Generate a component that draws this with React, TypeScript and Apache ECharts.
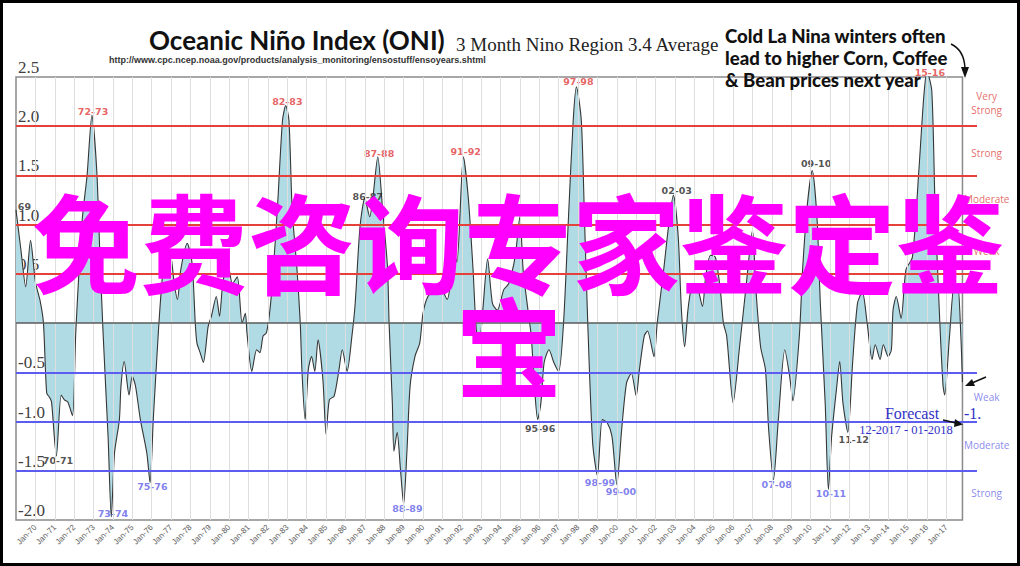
import React, { useEffect, useRef } from "react";
import * as echarts from "echarts";

// ONI series: month index counted from Jan-1969
const oniMonth = [
  0, 3, 6, 9, 12, 15, 17, 19, 21, 22, 25, 28, 30, 32, 35, 37, 41, 44, 47, 50, 52, 54, 57, 59, 61, 64, 65, 67, 70, 72, 74, 77, 81, 83, 85, 88, 90, 93, 96, 98,
  100, 102, 106, 109, 111, 112, 114, 116, 119, 121, 124, 126, 128, 131, 134, 137, 140, 142, 143, 146, 149, 151, 153, 155, 157, 159, 162, 165, 167, 169, 171, 174, 176, 177, 179, 181, 183, 185, 187, 190,
  192, 194, 197, 200, 202, 205, 208, 210, 213, 216, 219, 221, 224, 227, 230, 231, 233, 234, 236, 238, 240, 242, 244, 247, 250, 252, 255, 259, 262, 264, 267, 269, 271, 273, 277, 280, 283, 285, 287, 289,
  292, 295, 298, 302, 305, 309, 312, 314, 317, 319, 321, 323, 325, 327, 330, 333, 336, 339, 342, 345, 347, 350, 352, 354, 357, 360, 363, 366, 369, 372, 375, 378, 381, 384, 386, 389, 391, 395, 397, 401,
  404, 407, 410, 412, 414, 416, 418, 421, 425, 427, 430, 433, 436, 438, 440, 444, 448, 452, 456, 458, 461, 464, 466, 469, 472, 476, 479, 481, 485, 487, 490, 493, 496, 498, 501, 503, 505, 508, 510, 512,
  515, 518, 521, 524, 527, 530, 532, 535, 537, 540, 542, 543, 545, 548, 551, 555, 559, 562, 564, 567, 569, 572, 574, 575, 578, 581, 583, 585, 586,
];
const oniValue = [
  1.15, 0.75, 0.37, 0.84, 0.42, 0.22, 0.0, -0.71, -0.76, -0.8, -1.35, -0.73, -0.78, -0.8, -0.94, -0.1, 1.05, 1.5, 2.11, 1.55, 0.67, -0.13, -1.15, -1.97, -1.32, -0.98, -0.64, -0.39, -0.73, -0.54, -0.64, -0.98, -1.32, -1.62, -0.98, -0.13, 0.34, 0.81, 0.67, 0.4,
  0.24, 0.54, 0.81, 0.61, 0.0, -0.2, -0.3, -0.4, -0.03, 0.07, 0.27, 0.07, 0.4, 0.62, 0.4, 0.47, 0.0, 0.1, -0.1, -0.49, -0.27, -0.3, -0.13, -0.1, 0.1, 0.47, 1.21, 2.06, 2.21, 2.06, 1.15, 0.54, 0.0, -0.47, -0.98, -0.47, -0.34, -0.49, -0.17, -0.57,
  -1.13, -0.78, -0.74, -0.47, -0.27, -0.49, -0.13, 0.2, 0.98, 1.27, 1.08, 1.28, 1.69, 1.15, 0.57, 0.0, -0.81, -1.3, -1.11, -1.48, -1.84, -1.32, -0.64, -0.34, -0.2, 0.1, 0.27, 0.34, 0.4, 0.34, 0.24, 0.4, 0.73, 0.62, 1.69, 1.28, 0.54, -0.07, -0.19, 0.13,
  0.65, 0.2, 0.13, 0.34, 0.4, 0.67, 1.08, 0.54, 0.13, -0.13, -0.64, -0.98, -0.81, -0.4, -0.27, -0.4, -0.49, 0.0, 1.05, 2.06, 2.4, 2.06, 1.05, 0.0, -1.21, -1.55, -0.98, -1.01, -1.15, -1.64, -1.08, -0.61, -0.51, -0.74, -0.47, -0.13, -0.08, -0.34, 0.0, 0.54,
  0.98, 1.3, 0.88, 0.13, -0.24, 0.13, 0.34, 0.4, 0.17, 0.47, 0.69, 0.67, 0.35, 0.0, -0.13, -0.81, -0.24, 0.37, 0.94, 0.37, -0.24, -0.47, -1.08, -1.59, -0.98, -0.27, -0.54, -0.79, -0.13, 0.54, 1.21, 1.55, 1.05, 0.2, -0.81, -1.69, -1.15, -0.67, -0.39, -0.81,
  -1.11, -0.4, 0.2, 0.32, 0.0, -0.37, -0.22, -0.37, -0.22, -0.34, -0.27, 0.13, 0.27, 0.05, 0.54, 0.67, 1.55, 2.29, 2.56, 2.36, 1.21, 0.0, -0.64, -0.73, -0.13, 0.4, 0.4, -0.13, -0.6,
];

const lastMonth = 586;
const firstYear = 1969;
const yTickLabels = ["-2.0", "-1.5", "-1.0", "-0.5", "0", "0.5", "1.0", "1.5", "2.0", "2.5"];
const warmThresholds = [0.5, 1.0, 1.5, 2.0];
const coldThresholds = [-0.5, -1.0, -1.5];

// episode labels
const eventNames = ["69", "72-73", "70-71", "73-74", "75-76", "82-83", "86-87", "87-88", "88-89", "91-92", "95-96", "97-98", "98-99", "99-00", "02-03", "07-08", "09-10", "10-11", "11-12", "15-16"];
const eventMonths = [5.2, 47.7, 26.0, 60, 84.4, 168, 217.8, 224.8, 242.3, 278.4, 324.5, 348.2, 361.6, 374.6, 409.1, 471, 495.4, 504.6, 518.7, 565.8];
const eventValues = [1.18, 2.15, -1.4, -1.93, -1.66, 2.25, 1.29, 1.72, -1.88, 1.74, -1.07, 2.45, -1.62, -1.71, 1.35, -1.64, 1.62, -1.73, -1.18, 2.55];
const eventKinds = ["k", "r", "k", "b", "b", "r", "k", "r", "b", "r", "k", "r", "b", "b", "k", "b", "k", "b", "k", "r"];

// strength bands on the right
const bandNames = ["Very\nStrong", "Strong", "Moderate", "Weak", "Weak", "Moderate", "Strong"];
const bandValues = [2.24, 1.73, 1.26, 0.73, -0.75, -1.24, -1.73];
const bandKinds = ["r", "r", "r", "r", "b", "b", "b"];
const bandMonth = 601;

const RED = "#e5403a";
const BLUE = "#5c5cf0";
const kindColor: Record<string, string> = { r: "#e03a3a", b: "#6060e8", k: "#262626" };
const bandColor: Record<string, string> = { r: "#e0463e", b: "#6b6be8" };

export default function App() {
  const ref = useRef<HTMLDivElement>(null);
  useEffect(() => {
    if (!ref.current) return;
    const chart = echarts.init(ref.current, undefined, { renderer: "svg" });
    const gridMonths: number[] = [];
    for (let m = 12; m <= lastMonth; m += 12) gridMonths.push(m);

    const txt = (x: number, y: number, text: string, font: string, fill: string, align = "left", z = 10) => ({
      type: "text",
      x,
      y,
      z,
      style: { text, font, fill, textAlign: align, textVerticalAlign: "middle", align, verticalAlign: "middle" },
    });

    const option: any = {
      animation: false,
      backgroundColor: "#ffffff",
      grid: { left: 16, right: 43, top: 77, bottom: 46, containLabel: false },
      xAxis: {
        type: "value",
        min: 0,
        max: 595,
        interval: 12,
        axisLine: { show: false },
        axisTick: { show: false },
        splitLine: { show: false },
        axisLabel: {
          rotate: 45,
          fontSize: 8,
          color: "#606060",
          margin: 6,
          fontFamily: "Liberation Sans",
          formatter: (v: number) => {
            if (v <= 0 || v > lastMonth) return "";
            const yy = (firstYear + v / 12) % 100;
            return "Jan-" + String(yy).padStart(2, "0");
          },
        },
      },
      yAxis: {
        type: "value",
        min: -2,
        max: 2.5,
        interval: 0.5,
        axisLine: { show: false },
        axisTick: { show: false },
        splitLine: { show: false },
        axisLabel: {
          inside: true,
          margin: 2,
          fontFamily: "Liberation Serif",
          fontSize: 17,
          color: "#404040",
          verticalAlign: "bottom",
          padding: [0, 0, 1, 0],
          formatter: (v: number) => yTickLabels[Math.round((v + 2) / 0.5)],
        },
      },
      series: [
        {
          type: "scatter",
          data: [],
          silent: true,
          z: 1,
          markLine: {
            silent: true,
            symbol: ["none", "none"],
            label: { show: false },
            lineStyle: { color: "#dedede", width: 1, type: "solid" },
            data: gridMonths.map((m) => ({ xAxis: m })),
          },
          markArea: {
            silent: true,
            itemStyle: { color: "rgba(0,0,0,0)", borderColor: "#8a8a8a", borderWidth: 1.5 },
            data: [[{ coord: [0, -2] }, { coord: [lastMonth, 2.5] }]],
          },
        },
        {
          type: "line",
          data: oniMonth.map((m, i) => [m, oniValue[i]]),
          showSymbol: false,
          symbol: "none",
          smooth: 0.25,
          clip: true,
          z: 2,
          lineStyle: { color: "#363636", width: 1.1 },
          areaStyle: { color: "#b0dbe5", opacity: 1 },
        },
        {
          type: "scatter",
          data: [],
          silent: true,
          z: 3,
          markLine: {
            silent: true,
            symbol: ["none", "none"],
            label: { show: false },
            data: [
              ...warmThresholds.map((v) => ({ yAxis: v, lineStyle: { color: RED, width: 2, type: "solid" } })),
              ...coldThresholds.map((v) => ({ yAxis: v, lineStyle: { color: BLUE, width: 2, type: "solid" } })),
              [
                { coord: [0, 0], lineStyle: { color: "#5a5a5a", width: 1.5, type: "solid" } },
                { coord: [lastMonth, 0] },
              ],
            ],
          },
        },
        {
          type: "scatter",
          z: 4,
          silent: true,
          clip: false,
          symbol: "circle",
          symbolSize: 1,
          itemStyle: { color: "rgba(0,0,0,0)" },
          data: eventNames.map((n, i) => ({
            name: n,
            value: [eventMonths[i], eventValues[i]],
            label: { color: kindColor[eventKinds[i]] },
          })),
          label: {
            show: true,
            position: "inside",
            formatter: "{b}",
            fontFamily: "DejaVu Sans",
            fontWeight: "bold",
            fontSize: 9.5,
          },
        },
        {
          type: "scatter",
          z: 4,
          silent: true,
          clip: false,
          symbol: "circle",
          symbolSize: 1,
          itemStyle: { color: "rgba(0,0,0,0)" },
          data: bandNames.map((n, i) => ({
            name: n,
            value: [bandMonth, bandValues[i]],
            label: { color: bandColor[bandKinds[i]] },
          })),
          label: {
            show: true,
            position: "inside",
            formatter: "{b}",
            fontFamily: "Open Sans",
            fontSize: 10,
            lineHeight: 14,
          },
        },
      ],
      graphic: [
        txt(149, 40, "Oceanic Niño Index (ONI)", 'bold 26px "Lato"', "#111"),
        txt(456, 44, "3 Month Nino Region 3.4 Average", '19px "Liberation Serif"', "#222"),
        txt(109, 60, "http://www.cpc.ncep.noaa.gov/products/analysis_monitoring/ensostuff/ensoyears.shtml", 'bold 9px "Liberation Sans"', "#333"),
        ...["Cold La Nina winters often", "lead to higher Corn, Coffee", "& Bean prices next year"].map((t, i) =>
          txt(725, 36 + i * 22, t, '900 18.6px "Lato"', "#111")
        ),
        {
          type: "bezierCurve",
          z: 10,
          shape: { x1: 951, y1: 44, cpx1: 964, cpy1: 50, x2: 965, y2: 68 },
          style: { stroke: "#111", lineWidth: 1.5, fill: "none" },
        },
        {
          type: "polygon",
          z: 10,
          shape: { points: [[961, 67], [969, 67], [965, 78]] },
          style: { fill: "#111" },
        },
        txt(912, 413, "Forecast", '16px "Liberation Serif"', "#3232c8", "center"),
        txt(906, 430, "12-2017 - 01-2018", '12.5px "Liberation Serif"', "#3232c8", "center"),
        txt(964, 413, "-1.", '16px "Liberation Serif"', "#3232c8"),
        {
          type: "line",
          z: 10,
          shape: { x1: 943, y1: 420, x2: 956, y2: 423 },
          style: { stroke: "#111", lineWidth: 1.5 },
        },
        {
          type: "polygon",
          z: 10,
          shape: { points: [[955, 419], [963, 424.5], [954, 427]] },
          style: { fill: "#111" },
        },
        {
          type: "line",
          z: 10,
          shape: { x1: 986, y1: 377, x2: 972, y2: 383 },
          style: { stroke: "#111", lineWidth: 1.5 },
        },
        {
          type: "polygon",
          z: 10,
          shape: { points: [[972, 379], [965, 386], [975, 386]] },
          style: { fill: "#111" },
        },
        txt(518, 239, "免费咨询专家鉴定鉴", 'bold 108px "Noto Sans CJK SC"', "#ff00ff", "center", 20),
        txt(509, 343, "宝", 'bold 108px "Noto Sans CJK SC"', "#ff00ff", "center", 20),
        {
          type: "rect",
          z: 30,
          silent: true,
          shape: { x: 0, y: 0, width: 1020, height: 566 },
          style: { fill: "none", stroke: "#000", lineWidth: 6 },
        },
      ],
    };
    chart.setOption(option);
    return () => chart.dispose();
  }, []);
  return <div ref={ref} style={{ position: "absolute", left: 0, top: 0, width: 1020, height: 566 }} />;
}
